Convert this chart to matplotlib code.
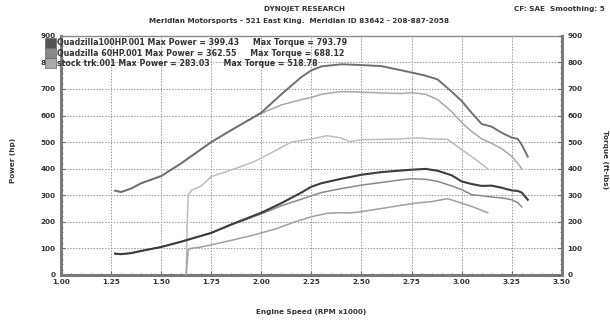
import matplotlib
matplotlib.use('Agg')
import matplotlib.pyplot as plt
from matplotlib.ticker import MultipleLocator
from matplotlib.patches import Rectangle

# ---------- データ ----------
# Quadzilla 100HP
q100_rpm = [1.27, 1.30, 1.35, 1.40, 1.50, 1.60, 1.75, 1.85, 2.00, 2.10, 2.20, 2.25,
            2.30, 2.40, 2.50, 2.60, 2.70, 2.75, 2.82, 2.88, 2.95, 3.00, 3.05, 3.10,
            3.15, 3.20, 3.25, 3.28, 3.30, 3.33]
q100_hp = [80, 78, 82, 90, 105, 125, 158, 190, 234, 270, 310, 332,
           345, 362, 377, 387, 393, 396, 399, 392, 375, 352, 342, 335,
           336, 328, 318, 316, 310, 283]
q100_tq = [317, 312, 325, 345, 372, 420, 500, 545, 611, 680, 745, 770,
           785, 793, 790, 786, 770, 762, 750, 736, 690, 655, 610, 568,
           558, 535, 517, 512, 490, 445]

# Quadzilla 60HP
q60_rpm = [1.27, 1.30, 1.35, 1.40, 1.50, 1.60, 1.75, 1.85, 2.00, 2.10, 2.20, 2.25,
           2.30, 2.40, 2.50, 2.60, 2.70, 2.75, 2.82, 2.88, 2.95, 3.00, 3.05, 3.10,
           3.15, 3.20, 3.25, 3.28, 3.30]
q60_hp = [80, 78, 82, 90, 105, 125, 158, 188, 230, 260, 285, 298,
          310, 325, 338, 348, 358, 362, 360, 352, 335, 321, 302, 298,
          293, 290, 283, 272, 256]
q60_tq = [317, 312, 325, 345, 372, 420, 500, 545, 608, 640, 660, 668,
          680, 690, 688, 685, 683, 686, 680, 660, 615, 574, 540, 512,
          495, 475, 446, 420, 400]

# Stock truck
stk_rpm = [1.625, 1.63, 1.635, 1.65, 1.70, 1.75, 1.85, 1.95, 2.00, 2.08, 2.15, 2.25,
           2.33, 2.40, 2.44, 2.50, 2.60, 2.70, 2.78, 2.85, 2.93, 3.00, 3.06, 3.13]
stk_hp = [0, 50, 94, 100, 105, 113, 130, 148, 158, 175, 195, 219,
          232, 234, 233, 238, 250, 262, 271, 276, 287, 270, 255, 234]
stk_tq = [0, 200, 300, 318, 335, 370, 395, 422, 440, 472, 500, 512,
          524, 515, 502, 509, 510, 512, 516, 512, 510, 472, 440, 400]

legend_lines = [
    'Quadzilla100HP.001 Max Power = 399.43     Max Torque = 793.79',
    'Quadzilla 60HP.001 Max Power = 362.55     Max Torque = 688.12',
    'stock trk.001 Max Power = 283.03     Max Torque = 518.78',
]

# 線の色 (グレースケール)
TQ_COLORS = ['#707070', '#a8a8a8', '#bdbdbd']
HP_COLORS = ['#3c3c3c', '#8a8a8a', '#a0a0a0']
SWATCH_COLORS = ['#555555', '#888888', '#aaaaaa']
TEXT_COLOR = '#333333'
FS = 5.2

fig = plt.figure(figsize=(6.1, 3.2), dpi=100)
ax = fig.add_axes([0.100, 0.141, 0.821, 0.747])

ax.set_xlim(1.0, 3.5)
ax.set_ylim(0, 900)
ax.xaxis.set_major_locator(MultipleLocator(0.25))
ax.xaxis.set_minor_locator(MultipleLocator(0.05))
ax.yaxis.set_major_locator(MultipleLocator(100))
ax.yaxis.set_minor_locator(MultipleLocator(20))
ax.grid(True, which='major', color='#9a9a9a', linestyle=(0, (1.5, 1.5)), linewidth=0.7)

for sp in ['top', 'right']:
    ax.spines[sp].set_color('#8c8c8c')
    ax.spines[sp].set_linewidth(1.0)
for sp in ['left', 'bottom']:
    ax.spines[sp].set_color('#7a7a7a')
    ax.spines[sp].set_linewidth(2.2)

ax.tick_params(which='both', direction='in', colors='#6a6a6a', labelcolor=TEXT_COLOR,
               labelsize=FS)
ax.tick_params(which='major', length=3)
ax.tick_params(which='minor', length=1.5)
ax.tick_params(axis='x', pad=3)
ax.tick_params(axis='y', pad=4)
ax.set_xticks([1.0 + 0.25 * i for i in range(11)])
ax.set_xticklabels([f'{1.0 + 0.25 * i:.2f}' for i in range(11)], fontweight='bold')
ax.set_yticks(range(0, 901, 100))
ax.set_yticklabels([str(v) for v in range(0, 901, 100)], fontweight='bold')

# --- トルク曲線 ---
ax.plot(q100_rpm, q100_tq, color=TQ_COLORS[0], lw=1.4, zorder=4)
ax.plot(q60_rpm, q60_tq, color=TQ_COLORS[1], lw=1.1, zorder=3)
ax.plot(stk_rpm, stk_tq, color=TQ_COLORS[2], lw=1.1, zorder=3)
# --- パワー曲線 ---
ax.plot(q100_rpm, q100_hp, color=HP_COLORS[0], lw=1.5, zorder=5)
ax.plot(q60_rpm, q60_hp, color=HP_COLORS[1], lw=1.1, zorder=4)
ax.plot(stk_rpm, stk_hp, color=HP_COLORS[2], lw=1.1, zorder=4)

# 右軸 (トルク)
ax2 = ax.twinx()
ax2.set_ylim(0, 900)
ax2.set_yticks(range(0, 901, 100))
ax2.set_yticklabels([str(v) for v in range(0, 901, 100)], fontweight='bold')
ax2.yaxis.set_minor_locator(MultipleLocator(20))
ax2.tick_params(which='both', direction='in', colors='#6a6a6a', labelcolor=TEXT_COLOR,
                labelsize=FS, pad=4)
ax2.tick_params(which='major', length=3)
ax2.tick_params(which='minor', length=1.5)
for sp in ax2.spines.values():
    sp.set_visible(False)
ax2.spines['right'].set_visible(True)
ax2.spines['right'].set_color('#7a7a7a')
ax2.spines['right'].set_linewidth(2.2)

# ---------- テキスト ----------
fig.text(0.500, 0.972, 'DYNOJET RESEARCH', ha='center', va='center',
         fontsize=FS, fontweight='bold', color=TEXT_COLOR)
fig.text(0.490, 0.935,
         'Meridian Motorsports - 521 East King.  Meridian ID 83642 - 208-887-2058',
         ha='center', va='center', fontsize=FS, fontweight='bold', color=TEXT_COLOR)
fig.text(0.992, 0.972, 'CF: SAE  Smoothing: 5', ha='right', va='center',
         fontsize=FS, fontweight='bold', color=TEXT_COLOR)
fig.text(0.022, 0.50, 'Power (hp)', rotation=90, ha='center', va='center',
         fontsize=FS, fontweight='bold', color=TEXT_COLOR)
fig.text(0.992, 0.50, 'Torque (ft-lbs)', rotation=-90, ha='center', va='center',
         fontsize=FS, fontweight='bold', color=TEXT_COLOR)
fig.text(0.510, 0.025, 'Engine Speed (RPM x1000)', ha='center', va='center',
         fontsize=FS, fontweight='bold', color=TEXT_COLOR)

# 凡例 (左上)
for i, (txt, sc) in enumerate(zip(legend_lines, SWATCH_COLORS)):
    y = 0.866 - i * 0.032
    fig.add_artist(Rectangle((0.073, y - 0.016), 0.018, 0.032, transform=fig.transFigure,
                             facecolor=sc, edgecolor='#666666', lw=0.5, zorder=10))
    fig.text(0.094, y, txt, ha='left', va='center', fontsize=5.7, fontweight='bold',
             color=TEXT_COLOR, zorder=11)

fig.savefig('out.png', dpi=100)
